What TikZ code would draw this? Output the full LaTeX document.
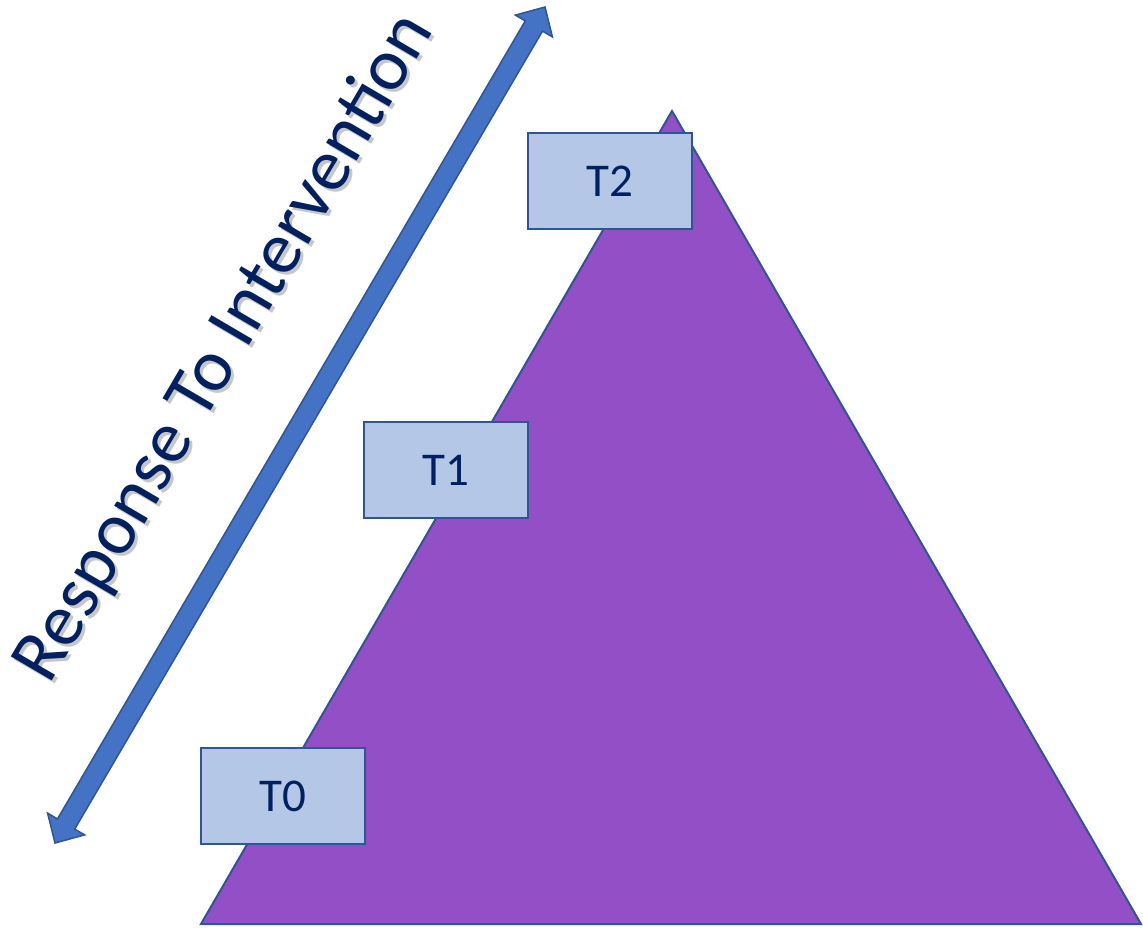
\documentclass[tikz,border=0pt]{standalone}
\usepackage{fontspec}
\setmainfont{Carlito}
\definecolor{triFill}{HTML}{924FC6}
\definecolor{edgeBlue}{HTML}{2F5597}
\definecolor{boxFill}{HTML}{B4C7E7}
\definecolor{txtNavy}{HTML}{002060}
\definecolor{arrFill}{HTML}{4472C4}
\tikzset{
  tbox/.style={draw=edgeBlue, fill=boxFill, line width=2.5pt, minimum width=164pt,
    minimum height=96pt, inner sep=0pt, text=txtNavy, font=\fontsize{47}{52}\selectfont},
  rtitle/.style={rotate=59.6, anchor=base, inner sep=0pt, font=\fontsize{74}{80}\selectfont}
}
\begin{document}
\begin{tikzpicture}[x=1pt,y=-1pt]
\useasboundingbox (0,0) rectangle (1143,927);
% pyramid
\coordinate (apex) at (672,111);
\coordinate (bl) at (201,924);
\coordinate (br) at (1141,924);
\draw[fill=triFill, draw=edgeBlue, line width=2pt, line join=miter] (apex) -- (br) -- (bl) -- cycle;
% tier boxes
\node[tbox] (t2) at (610,181) {T2};
\node[tbox] (t1) at (446,470) {T1};
\node[tbox] (t0) at (283,796) {T0};
% double block arrow
\coordinate (arrS) at (55,843);
\coordinate (arrE) at (545,7);
\draw[fill=arrFill, draw=edgeBlue, line width=1.5pt, line join=miter]
  (arrS) -- (84.7,834.9) -- (74.7,829.1) -- (542.5,31.1) -- (552.4,36.9) -- (arrE)
  -- (515.4,15.1) -- (525.3,20.9) -- (57.5,818.9) -- (47.6,813.1) -- cycle;
% title with shadow
\node[rtitle, text=black, opacity=0.22] (ttlshadow) at (245,361) {Response To Intervention};
\node[rtitle, text=txtNavy] (ttl) at (242,358) {Response To Intervention};
\end{tikzpicture}
\end{document}
